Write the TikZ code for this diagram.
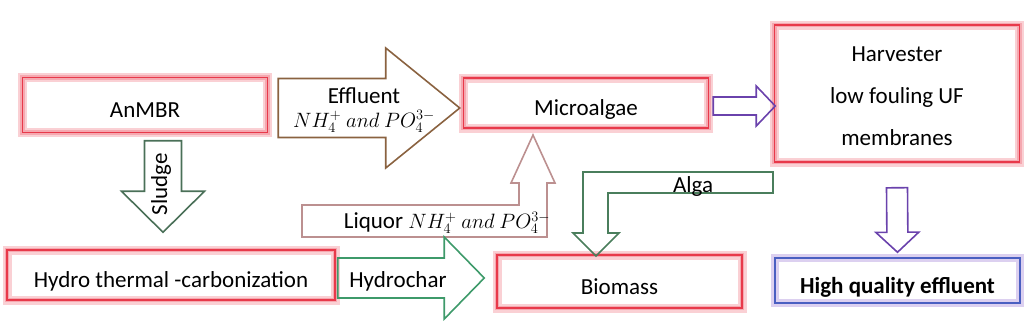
\documentclass[tikz,border=0pt]{standalone}
\usepackage{fontspec}
\setmainfont{Carlito}
\usetikzlibrary{calc}
\definecolor{boxred}{HTML}{E8394A}
\definecolor{boxglow}{HTML}{FAD0D4}
\definecolor{boxglowin}{HTML}{F5A8B0}
\definecolor{hqblue}{HTML}{4A5FC1}
\definecolor{hqglow}{HTML}{DCD0F0}
\definecolor{effbrown}{HTML}{8A6240}
\definecolor{sludgegreen}{HTML}{4A7058}
\definecolor{charg}{HTML}{3E9A6A}
\definecolor{liqrose}{HTML}{BC9090}
\definecolor{algagreen}{HTML}{4A7E5C}
\definecolor{harvpurple}{HTML}{6A42AC}

\newcommand\blockarrow[6][]{%
  \path (#2) coordinate (ba-s) (#3) coordinate (ba-t);
  \path ($(ba-t)!#6!(ba-s)$) coordinate (ba-b);
  \draw[blockarr,#1] ($(ba-s)!#4!90:(ba-t)$) -- ($(ba-b)!#4!-90:(ba-s)$)
    -- ($(ba-b)!#5!-90:(ba-s)$) -- (ba-t) -- ($(ba-b)!#5!90:(ba-s)$)
    -- ($(ba-b)!#4!90:(ba-s)$) -- ($(ba-s)!#4!-90:(ba-t)$) -- cycle;}
\newcommand\ions{{\fontsize{20.74}{22}\selectfont$NH_4^+\ and\ PO_4^{3-}$}}

\begin{document}
\begin{tikzpicture}[x=1pt, y=-1pt, font=\fontsize{23}{27}\selectfont,
  box/.style={line width=1.5pt, minimum width=245pt, minimum height=52pt, inner sep=0pt,
    text height=25pt, text depth=0pt},
  procbox/.style={box, draw=boxred, preaction={draw=boxglow, line width=9pt},
    preaction={draw=boxglowin, line width=4.5pt}},
  hqbox/.style={box, draw=hqblue, preaction={draw=hqglow, line width=8pt}},
  blockarr/.style={line width=1.6pt, line join=miter}]
  \useasboundingbox (0,0) rectangle (1031,325);

  \node[procbox, minimum height=55pt] (anmbr) at (145,105) {AnMBR};
  \node[procbox, minimum height=50pt] (micro) at (586,103) {Microalgae};
  \node[procbox, minimum height=137pt, text height=103pt, align=center, font=\fontsize{23}{42}\selectfont] (harv) at (897,93.5) {Harvester\\low fouling UF\\membranes};
  \node[procbox, minimum width=328pt, minimum height=50pt] (htc) at (171,275) {Hydro thermal -carbonization};
  \node[procbox, minimum height=53pt] (bio) at (619.5,281.5) {Biomass};
  \node[hqbox, minimum height=45pt, font=\fontsize{23}{27}\selectfont\bfseries] (hqe) at (897.5,280.5) {High quality effluent};

  \blockarrow[draw=effbrown]{$(anmbr.east)+(10,3)$}{$(micro.west)+(-3,5)$}{29.5pt}{60pt}{74pt}
  \blockarrow[draw=harvpurple]{$(micro.east)+(4,3)$}{$(harv.west)+(1.5,12.5)$}{9pt}{20pt}{19pt}
  \blockarrow[draw=harvpurple]{$(harv.south)+(0,25)$}{$(hqe.north)+(0,-5)$}{10.5pt}{21.5pt}{20pt}
  \blockarrow[draw=sludgegreen]{$(anmbr.south)+(18,7.5)$}{$(htc.north)+(-8,-17)$}{18.5pt}{41.5pt}{41pt}
  \draw[blockarr, draw=liqrose] (302,205) -- (519,205) -- (519,183) -- (511,183) -- (533,135) -- (555,183)
    -- (547,183) -- (547,237) -- (302,237) -- cycle;
  \blockarrow[draw=charg]{$(htc.east)+(2,3)$}{$(bio.west)+(-12,-3.5)$}{20pt}{41pt}{40pt}
  \draw[blockarr, draw=algagreen] (773,172) -- (583,172) -- (583,233) -- (573,233) -- (596,256) -- (619,233)
    -- (608,233) -- (608,193) -- (773,193) -- cycle;

  \node[align=center, font=\fontsize{23}{24}\selectfont] (efflbl) at (364,110) {Effluent\\\ions};
  \node[rotate=90] (sludgelbl) at (161,184) {Sludge};
  \node (charlbl) at (398,281) {Hydrochar};
  \node (liqlbl) at (447,223) {Liquor \ions};
  \node[anchor=base] (algalbl) at (693,192) {Alga};
\end{tikzpicture}
\end{document}
